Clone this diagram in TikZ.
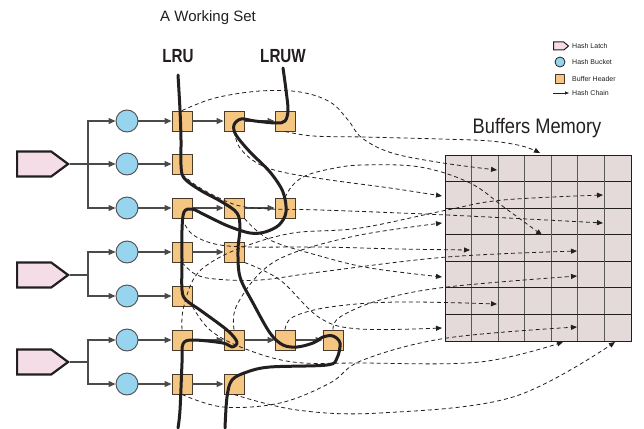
\documentclass[tikz,border=0pt]{standalone}
\usepackage{fontspec}
\setmainfont{Liberation Sans}
\usetikzlibrary{arrows.meta,shapes.symbols}
\definecolor{latchfill}{HTML}{F5DDE8}
\definecolor{bucketfill}{HTML}{97D5EE}
\definecolor{headfill}{HTML}{F5C582}
\definecolor{headdraw}{HTML}{4A3A28}
\definecolor{gridfill}{HTML}{E4DADA}
\definecolor{chaingray}{HTML}{4A4A4A}
\definecolor{ink}{HTML}{231F20}
\begin{document}
\begin{tikzpicture}[x=1pt,y=-1pt,
  latch/.style={signal, signal to=east, signal pointer angle=73, draw=ink, line width=2.2pt,
    fill=latchfill, minimum width=51pt, minimum height=25pt, inner sep=0pt, anchor=west},
  bucket/.style={circle, draw=ink!80, line width=0.9pt, fill=bucketfill, minimum size=22pt, inner sep=0pt},
  header/.style={rectangle, draw=headdraw, line width=0.9pt, fill=headfill, minimum size=20pt, inner sep=0pt},
  chain/.style={draw=chaingray, line width=1.1pt, -{Triangle[length=7pt,width=6pt]}},
  ptr/.style={draw=ink, line width=0.8pt, dash pattern=on 4pt off 3pt, -{Triangle[length=6pt,width=5pt]}},
  lru/.style={draw=ink, line width=3pt, line cap=round, line join=round},
  lbl/.style={inner sep=0pt, text=ink}
]
\useasboundingbox (0,0) rectangle (644,428);
\fill[white] (0,0) rectangle (644,428);

% ---- titles
\node[lbl, anchor=west] (ws) at (160,18) {\fontsize{15}{18}\selectfont A Working Set};
\node[lbl] (lrut) at (178,56) {\scalebox{0.8}[1]{\fontsize{19}{22}\selectfont\bfseries LRU}};
\node[lbl] (lruwt) at (283,56) {\scalebox{0.8}[1]{\fontsize{19}{22}\selectfont\bfseries LRUW}};
\node[lbl] (bm) at (537,128) {\scalebox{0.87}[1]{\fontsize{21}{24}\selectfont Buffers Memory}};

% ---- legend
\node[signal, signal to=east, signal pointer angle=80, draw=ink, line width=1pt, fill=latchfill,
  minimum width=15pt, minimum height=8pt, inner sep=0pt, anchor=west] (lg1) at (553,46) {};
\node[circle, draw=ink, line width=0.8pt, fill=bucketfill, minimum size=10pt, inner sep=0pt] (lg2) at (560,62) {};
\node[rectangle, draw=headdraw, line width=0.8pt, fill=headfill, minimum size=9pt, inner sep=0pt] (lg3) at (560,79) {};
\coordinate (lg4a) at (553,93);
\coordinate (lg4b) at (569,93);
\draw[draw=ink, line width=0.7pt, -{Triangle[length=4pt,width=3pt]}] (lg4a) -- (lg4b);
\node[lbl, anchor=west] at (572,46) {\fontsize{7}{8}\selectfont Hash Latch};
\node[lbl, anchor=west] at (572,62) {\fontsize{7}{8}\selectfont Hash Bucket};
\node[lbl, anchor=west] at (572,79) {\fontsize{7}{8}\selectfont Buffer Header};
\node[lbl, anchor=west] at (572,93) {\fontsize{7}{8}\selectfont Hash Chain};

% ---- memory grid
\fill[gridfill] (445,155) rectangle (631,341);
\foreach \i in {1,...,6} {
  \draw[ink!75, line width=0.9pt] ({445+\i*186/7},155) -- ({445+\i*186/7},341);
  \draw[ink, line width=0.9pt] (445,{155+\i*186/7}) -- (631,{155+\i*186/7});
}
\draw[ink, line width=1pt] (445,155) rectangle (631,341);

% ---- latches
\node[latch] (L1) at (16,164) {};
\node[latch] (L2) at (16,275) {};
\node[latch] (L3) at (16,362) {};

% ---- buckets
\foreach \r/\y in {1/121,2/164,3/208,4/252,5/296,6/340,7/384}
  \node[bucket] (B\r) at (127,\y) {};

% ---- headers
\foreach \n/\x/\y in {11/182/121,12/234/121,13/285/121,
                      21/182/164,
                      31/182/208,32/234/208,33/285/208,
                      41/182/252,42/234/252,
                      51/182/296,
                      61/182/340,62/234/340,63/285/340,64/333/340,
                      71/182/384,72/234/384}
  \node[header] (H\n) at (\x,\y) {};

% ---- latch -> bucket chains
\draw[chaingray, line width=1.1pt] (L1.east) -- (88,164) coordinate (J1);
\draw[chaingray, line width=1.1pt] (L2.east) -- (88,275) coordinate (J2);
\draw[chaingray, line width=1.1pt] (L3.east) -- (88,362) coordinate (J3);
\draw[chain] (J1) |- (B1.west);
\draw[chain] (J1) -- (B2.west);
\draw[chain] (J1) |- (B3.west);
\draw[chain] (J2) |- (B4.west);
\draw[chain] (J2) |- (B5.west);
\draw[chain] (J3) |- (B6.west);
\draw[chain] (J3) |- (B7.west);

% ---- bucket -> header chains
\foreach \r in {1,...,7} \draw[chain] (B\r.east) -- (H\r1.west);
\draw[chain] (H11.east) -- (H12.west);
\draw[chain] (H12.east) -- (H13.west);
\draw[chain] (H31.east) -- (H32.west);
\draw[chain] (H32.east) -- (H33.west);
\draw[chain] (H41.east) -- (H42.west);
\draw[chain] (H61.east) -- (H62.west);
\draw[chain] (H62.east) -- (H63.west);
\draw[chain] (H63.east) -- (H64.west);
\draw[chain] (H71.east) -- (H72.west);

% ---- targets in memory
\coordinate (T1) at (540,153);  \coordinate (T2) at (497,170);
\coordinate (T3) at (442,196);  \coordinate (T4) at (603,195);
\coordinate (T5) at (442,223);  \coordinate (T6) at (603,223);
\coordinate (T7) at (542,235);  \coordinate (T8) at (470,250);
\coordinate (T9) at (577,251);  \coordinate (T10) at (442,277);
\coordinate (T11) at (577,276); \coordinate (T12) at (497,304);
\coordinate (T13) at (442,328); \coordinate (T14) at (577,327);
\coordinate (T15) at (563,342); \coordinate (T16) at (615,342);

% ---- buffer pointers
\draw[ptr] plot[smooth, tension=0.6] coordinates {(H11.north) (215,98) (260,91) (300,92) (330,102) (348,120) (362,138) (392,153) (443,163) (T2)};
\draw[ptr] plot[smooth, tension=0.6] coordinates {(H13.south) (313,136) (363,137) (440,139) (490,141) (522,146) (T1)};
\draw[ptr] plot[smooth, tension=0.6] coordinates {(H12.south) (240,148) (257,163) (282,172) (330,180) (390,188) (T3)};
\draw[ptr] plot[smooth, tension=0.6] coordinates {(H21.south) (197,186) (217,197) (240,206) (270,209) (320,210) (447,215) (T6)};
\draw[ptr] plot[smooth, tension=0.6] coordinates {(H33.north) (292,186) (305,176) (330,169) (362,165) (420,167) (470,183) (505,208) (T7)};
\draw[ptr] plot[smooth, tension=0.6] coordinates {(H31.south) (192,234) (215,244) (250,247) (320,247) (400,249) (T8)};
\draw[ptr] plot[smooth, tension=0.6] coordinates {(H32.south east) (270,240) (320,256) (370,268) (T10)};
\draw[ptr] plot[smooth, tension=0.6] coordinates {(H41.south) (195,274) (215,279) (260,280) (320,272) (447,257) (T9)};
\draw[ptr] plot[smooth, tension=0.6] coordinates {(H42.south east) (280,280) (320,318) (360,329) (T13)};
\draw[ptr] plot[smooth, tension=0.6] coordinates {(H51.south east) (210,330) (243,348) (293,362) (360,363) (480,362) (T15)};
\draw[ptr] plot[smooth, tension=0.6] coordinates {(H61.north) (183,310) (193,280) (210,263) (243,247) (293,233) (360,228) (447,210) (503,200) (T4)};
\draw[ptr] plot[smooth, tension=0.6] coordinates {(H62.north) (236,307) (260,273) (293,253) (360,235) (T5)};
\draw[ptr] plot[smooth, tension=0.6] coordinates {(H63.north) (293,317) (330,307) (397,302) (T12)};
\draw[ptr] plot[smooth, tension=0.6] coordinates {(H64.north) (340,317) (380,300) (447,287) (T11)};
\draw[ptr] plot[smooth, tension=0.6] coordinates {(H71.south) (223,407) (280,403) (330,383) (363,360) (447,338) (T14)};
\draw[ptr] plot[smooth, tension=0.6] coordinates {(H72.south) (297,410) (380,413) (513,397) (T16)};

% ---- LRU list
\draw[lru] plot[smooth, tension=0.55] coordinates {(178,75) (180,110) (181,140) (181,165) (184,178) (200,190) (222,202) (237,213) (240,228) (238,250) (240,277) (253,303) (270,333) (283,345) (297,347) (313,343) (323,337) (333,336) (340,343) (337,358) (327,365) (270,367) (247,372) (232,380) (227,397) (225,428)};
% ---- LRUW list
\draw[lru] plot[smooth, tension=0.55] coordinates {(283,68) (286,90) (288,110) (285,121) (276,123) (255,121) (241,119) (234,125) (236,135) (250,152) (270,172) (283,192) (286,212) (279,225) (265,232) (250,233) (228,226) (205,215) (192,209) (184,212) (182,230) (182,260) (182,290) (186,300) (200,310) (227,330) (237,342) (232,347) (223,343) (193,340) (183,344) (182,363) (180,410) (178,428)};
\end{tikzpicture}
\end{document}
